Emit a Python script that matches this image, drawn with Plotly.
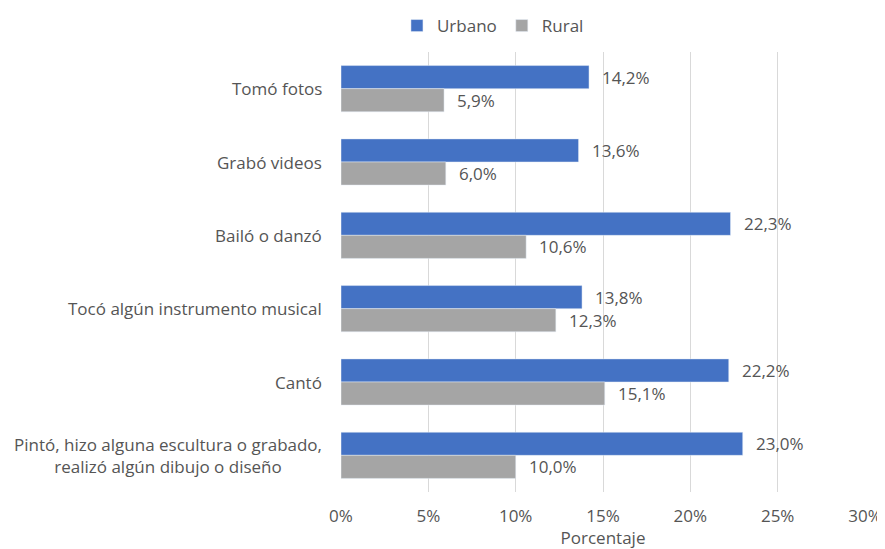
import plotly.graph_objects as go

categories = [
    "Tomó fotos",
    "Grabó videos",
    "Bailó o danzó",
    "Tocó algún instrumento musical",
    "Cantó",
    "Pintó, hizo alguna escultura o grabado,<br>realizó algún dibujo o diseño",
]
urbano = [14.2, 13.6, 22.3, 13.8, 22.2, 23.0]
rural = [5.9, 6.0, 10.6, 12.3, 15.1, 10.0]
tick_vals = [0, 5, 10, 15, 20, 25, 30]
tick_text = ["0%", "5%", "10%", "15%", "20%", "25%", "30%"]


def fmt(v):
    return f"{v:.1f}%".replace(".", ",")


FONT = "Open Sans"
TXT = "#555555"
FS = 17

fig = go.Figure()
fig.add_trace(go.Bar(
    y=categories, x=urbano, name="Urbano", orientation="h",
    marker_color="#4472C4",
))
fig.add_trace(go.Bar(
    y=categories, x=rural, name="Rural", orientation="h",
    marker_color="#A5A5A5",
))

annotations = []
for cat, u, r in zip(categories, urbano, rural):
    annotations.append(dict(x=u, y=cat, xref="x", yref="y", text=fmt(u),
                            showarrow=False, xanchor="left", yanchor="middle",
                            xshift=11, yshift=11.5,
                            font=dict(size=FS, color=TXT, family=FONT)))
    annotations.append(dict(x=r, y=cat, xref="x", yref="y", text=fmt(r),
                            showarrow=False, xanchor="left", yanchor="middle",
                            xshift=11, yshift=-11.5,
                            font=dict(size=FS, color=TXT, family=FONT)))
    annotations.append(dict(x=0, y=cat, xref="paper", yref="y", text=cat,
                            showarrow=False, xanchor="right", yanchor="middle",
                            align="center", xshift=-17,
                            font=dict(size=FS, color=TXT, family=FONT)))

fig.update_layout(
    width=877, height=541,
    barmode="group", bargap=0.37, bargroupgap=0,
    plot_bgcolor="white", paper_bgcolor="white",
    font=dict(family=FONT, color=TXT, size=FS),
    margin=dict(l=333, r=20, t=44, b=57, pad=0),
    showlegend=True,
    legend=dict(orientation="h", x=0.29, xanchor="center", y=1.0, yanchor="top",
                yref="container", itemwidth=30,
                font=dict(size=FS, color=TXT, family=FONT)),
    xaxis=dict(range=[0, 30], tickvals=tick_vals, ticktext=tick_text,
               showgrid=True, gridcolor="#D9D9D9", gridwidth=1,
               zeroline=False, showline=False, automargin=False,
               ticks="outside", ticklen=9, tickcolor="rgba(0,0,0,0)",
               title=dict(text="Porcentaje", standoff=2, font=dict(size=FS, color=TXT)),
               tickfont=dict(size=FS, color=TXT)),
    yaxis=dict(autorange="reversed", showgrid=False, showline=False,
               showticklabels=False, ticks="", automargin=False),
    annotations=annotations,
)

fig.write_html("out.html")
